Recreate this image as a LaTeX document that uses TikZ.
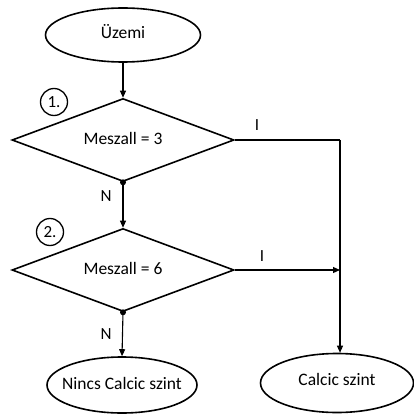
\documentclass[tikz,border=0pt]{standalone}
\usepackage{fontspec}
\setmainfont{Carlito}
\usetikzlibrary{shapes.geometric,arrows.meta}
\newcommand{\zb}[1]{\makebox[0pt]{#1}}
\begin{document}
\begin{tikzpicture}[x=1pt,y=-1pt,
  shapetext/.style={inner sep=0pt,text height=12pt,text depth=4pt,font=\fontsize{17.5}{20}\selectfont},
  term/.style={ellipse,draw,line width=1.6pt,shapetext},
  decision/.style={diamond,draw,line width=1.6pt,shapetext},
  num/.style={circle,draw,line width=1.3pt,minimum size=27pt,inner sep=0pt,font=\fontsize{17}{20}\selectfont},
  lbl/.style={font=\fontsize{17}{20}\selectfont,inner sep=0pt},
  conn/.style={line width=1.1pt},
  arr/.style={conn,-{Triangle[length=7pt,width=6pt]}}]
\useasboundingbox (0,0) rectangle (414,414);
\node[term,minimum width=155pt,minimum height=54pt] (uz) at (123,35) {\zb{Üzemi}};
\node[decision,minimum width=222pt,minimum height=83pt] (d1) at (123,140) {\zb{Meszall = 3}};
\node[decision,minimum width=222pt,minimum height=83pt] (d2) at (123,270) {\zb{Meszall = 6}};
\node[term,minimum width=150pt,minimum height=56pt] (nc) at (122,385) {\zb{Nincs Calcic szint}};
\node[term,minimum width=153pt,minimum height=59pt] (cs) at (337,383) {\zb{\raisebox{2pt}{Calcic szint}}};
\node[num] (n1) at (54,102) {1.};
\node[num] (n2) at (50,232) {2.};
\coordinate (c1) at (340,140);
\coordinate (c2) at (340,270);
\draw[arr] (uz.south) -- (d1.north);
\draw[conn] (d1.east) -- (c1);
\draw[arr] (c1) -- (cs.north -| c1);
\draw[arr] (d1.south) -- (d2.north);
\draw[arr] (d2.east) -- (c2);
\draw[arr] (d2.south) -- (nc.north);
\fill (d1.south) circle (3pt);
\fill (d2.south) circle (3pt);
\node[lbl] (i1) at (257,125) {I};
\node[lbl] (i2) at (262,256) {I};
\node[lbl] (nn1) at (106,196) {N};
\node[lbl] (nn2) at (106,334) {N};
\end{tikzpicture}
\end{document}
